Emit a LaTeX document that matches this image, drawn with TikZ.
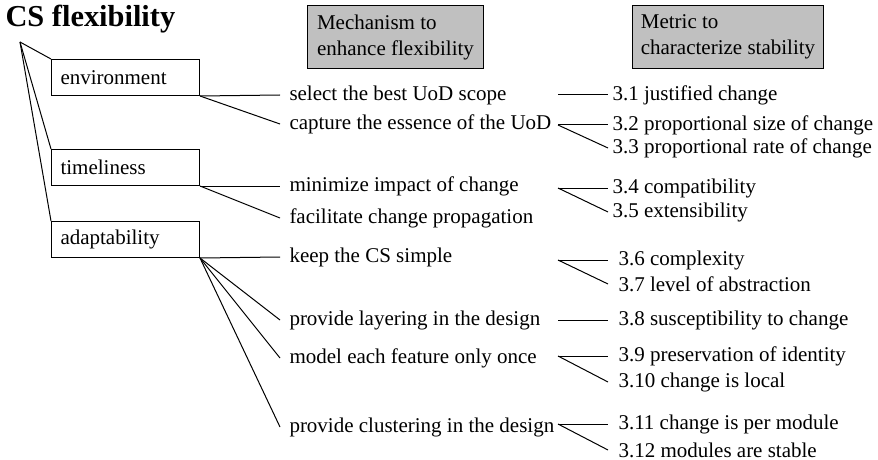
\documentclass[tikz,border=0pt]{standalone}
\usepackage{fontspec}
\setmainfont{Liberation Serif}
\usepackage{tikz}
\usetikzlibrary{positioning}
\definecolor{hdrgray}{RGB}{192,192,192}

\begin{document}
\begin{tikzpicture}[x=0.5pt, y=-0.5pt, line width=0.5pt,
    every node/.style={font=\fontsize{10.5}{13}\selectfont},
    aspectbox/.style={draw, anchor=north west, minimum width=74pt, minimum height=18pt,
                      text width=65pt, align=left, inner xsep=4.5pt},
    headbox/.style={draw, fill=hdrgray, anchor=north west, align=left,
                    minimum height=31.5pt},
    mech/.style={anchor=west, inner xsep=4.5pt, inner ysep=1pt},
    metric/.style={anchor=west, inner xsep=2pt, inner ysep=1pt},
    lowmetric/.style={metric, inner xsep=5pt}]
  \useasboundingbox (0,0) rectangle (878,460);

  % title and headers
  \node[anchor=base west, inner sep=0pt, font=\bfseries\fontsize{15.2}{17}\selectfont]
        (title) at (5,27) {CS flexibility};
  \node[headbox, minimum width=88pt] (hmech) at (307,5) {Mechanism to\\enhance flexibility};
  \node[headbox, minimum width=95.5pt] (hmetric) at (632,5) {Metric to\\characterize stability};

  % aspects
  \coordinate (root) at (20,42);
  \node[aspectbox] (env) at (51,59) {environment};
  \node[aspectbox] (time) at (51,149) {timeliness};
  \node[aspectbox] (adapt) at (51,221) {adaptability};
  \foreach \b in {env,time,adapt}
    \draw (root) -- (\b.north west);

  % mechanisms
  \node[mech] (sel) at (280,95) {select the best UoD scope};
  \node[mech] (cap) at (280,124) {capture the essence of the UoD};
  \node[mech] (mini) at (280,186) {minimize impact of change};
  \node[mech] (prop) at (280,218) {facilitate change propagation};
  \node[mech] (keep) at (280,257) {keep the CS simple};
  \node[mech] (layer) at (280,320) {provide layering in the design};
  \node[mech] (once) at (280,358) {model each feature only once};
  \node[mech] (clust) at (280,427) {provide clustering in the design};

  \draw (env.south east) -- (sel.west);
  \draw (env.south east) -- (cap.west);
  \draw (time.south east) -- (mini.west);
  \draw (time.south east) -- (prop.west);
  \foreach \m in {keep,layer,once,clust}
    \draw (adapt.south east) -- (\m.west);

  % metrics
  \coordinate (split) at (558,0);
  \node[metric] (m1) at (608,95) {3.1 justified change};
  \node[metric] (m2) at (608,125) {3.2 proportional size of change};
  \node[metric] (m3) at (608,148) {3.3 proportional rate of change};
  \node[metric] (m4) at (608,188) {3.4 compatibility};
  \node[metric] (m5) at (608,212) {3.5 extensibility};
  \node[lowmetric] (m6) at (608,260) {3.6 complexity};
  \node[lowmetric] (m7) at (608,284) {3.7 level of abstraction};
  \node[lowmetric] (m8) at (608,320) {3.8 susceptibility to change};
  \node[lowmetric] (m9) at (608,356) {3.9 preservation of identity};
  \node[lowmetric] (m10) at (608,382) {3.10 change is local};
  \node[lowmetric] (m11) at (608,424) {3.11 change is per module};
  \node[lowmetric] (m12) at (608,450) {3.12 modules are stable};

  \draw (split |- sel) -- (m1.west);
  \draw (split |- m2) -- (m2.west);
  \draw (split |- m2) -- (m3.west);
  \draw (split |- m4) -- (m4.west);
  \draw (split |- m4) -- (m5.west);
  \draw (split |- m6) -- (m6.west);
  \draw (split |- m6) -- (m7.west);
  \draw (split |- m8) -- (m8.west);
  \draw (split |- m9) -- (m9.west);
  \draw (split |- m9) -- (m10.west);
  \draw (split |- m11) -- (m11.west);
  \draw (split |- m11) -- (m12.west);
\end{tikzpicture}
\end{document}
